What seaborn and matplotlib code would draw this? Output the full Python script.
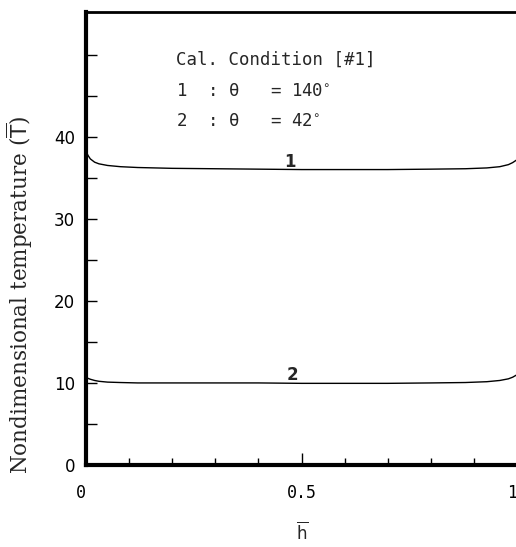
import numpy as np
import pandas as pd
import matplotlib
matplotlib.use("Agg")
import matplotlib.pyplot as plt
import seaborn as sns

# Data
h_bar = [0.0, 0.005, 0.01, 0.02, 0.03, 0.05, 0.08, 0.12, 0.2, 0.3, 0.4, 0.5, 0.6, 0.7, 0.8, 0.88, 0.93, 0.96, 0.98, 0.99, 1.0]
curve1 = [38.2, 37.7, 37.3, 36.9, 36.7, 36.5, 36.35, 36.25, 36.15, 36.1, 36.05, 36.0, 36.0, 36.0, 36.05, 36.1, 36.2, 36.35, 36.6, 36.85, 37.2]
curve2 = [10.7, 10.55, 10.45, 10.3, 10.2, 10.1, 10.05, 10.0, 10.0, 10.0, 10.0, 9.95, 9.95, 9.95, 10.0, 10.05, 10.15, 10.3, 10.5, 10.7, 11.0]
series_names = ["1", "2"]
x_tick_labels = ["0", "0.5", "1"]
y_tick_labels = ["0", "10", "20", "30", "40"]

df = pd.DataFrame({
    "h": h_bar * 2,
    "T": curve1 + curve2,
    "case": [series_names[0]] * len(h_bar) + [series_names[1]] * len(h_bar),
})

sns.set_theme(style="white")
plt.rcParams['font.family'] = ['DejaVu Sans']

W, H = 516, 547
fig = plt.figure(figsize=(W / 100, H / 100), dpi=100)
ax = fig.add_axes([86 / W, (H - 465) / H, (517 - 86) / W, (465 - 12) / H])

sns.lineplot(data=df, x="h", y="T", units="case", estimator=None, color="black",
             linewidth=1.0, ax=ax, legend=False)

ax.set_xlim(0, 1.0)
ax.set_ylim(0, 55.2)

ax.set_xticks([0, 0.5, 1.0])
ax.set_xticklabels(x_tick_labels, family="DejaVu Sans Mono", fontsize=12)
ax.get_xticklabels()[-1].set_ha("right")
ax.get_xticklabels()[0].set_ha("right")
ax.set_xticks(np.arange(0.1, 1.0, 0.1), minor=True)
ax.set_yticks([0, 10, 20, 30, 40])
ax.set_yticklabels(y_tick_labels, fontsize=12)
ax.set_yticks([5, 15, 25, 35, 45, 50], minor=True)

ax.tick_params(axis="x", which="major", direction="in", length=9, width=1, pad=14, color="black")
ax.tick_params(axis="x", which="minor", direction="in", length=5, width=1, color="black")
ax.tick_params(axis="y", which="major", direction="in", length=8, width=1, pad=8, color="black")
ax.tick_params(axis="y", which="minor", direction="in", length=8, width=1, color="black")
ax.tick_params(axis="both", labelcolor="black", bottom=True, left=True, which="both")

for s in ["left", "bottom"]:
    ax.spines[s].set_linewidth(3)
    ax.spines[s].set_color("black")
ax.spines["top"].set_linewidth(2)
ax.spines["top"].set_color("black")
ax.spines["right"].set_visible(False)

ax.set_xlabel("")
ax.set_ylabel("")
fig.text(20 / W, 1 - 295 / H, r"Nondimensional temperature ($\overline{\mathrm{T}}$)",
         rotation=90, ha="center", va="center", family="DejaVu Serif", fontsize=15.5)
fig.text(302 / W, 1 - 532 / H, r"$\overline{\mathrm{h}}$", ha="center", va="center",
         family="DejaVu Sans", fontsize=12)

mono = "DejaVu Sans Mono"
ax.text(0.208, 49.4, "Cal. Condition [#1]", family=mono, fontsize=12.5, va="center")
ax.text(0.208, 45.6, "1  : θ   = 140$^{\\circ}$", family=mono, fontsize=12.5, va="center")
ax.text(0.208, 41.9, "2  : θ   = 42$^{\\circ}$", family=mono, fontsize=12.5, va="center")

ax.text(0.474, 36.9, series_names[0], fontsize=12, fontweight="bold", ha="center", va="center")
ax.text(0.478, 11.0, series_names[1], fontsize=12, fontweight="bold", ha="center", va="center")

fig.savefig("out.png", dpi=100)
